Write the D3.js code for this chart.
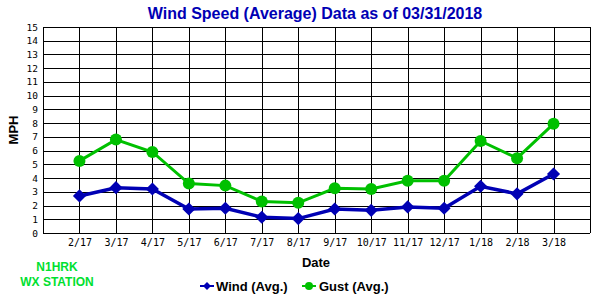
<!DOCTYPE html>
<html>
<head>
<meta charset="utf-8">
<script src="https://cdn.jsdelivr.net/npm/d3@7"></script>
<style>
body { margin: 0; background: #fff; }
svg { display: block; font-family: "Liberation Sans", Arial, sans-serif; }
</style>
</head>
<body>
<div id="chartContainer"></div>
<script>
var months = ["2/17", "3/17", "4/17", "5/17", "6/17", "7/17", "8/17", "9/17", "10/17", "11/17", "12/17", "1/18", "2/18", "3/18"]
var windAvg = [2.7, 3.3, 3.2, 1.75, 1.8, 1.15, 1.05, 1.75, 1.65, 1.9, 1.8, 3.4, 2.85, 4.3]
var gustAvg = [5.25, 6.8, 5.9, 3.6, 3.45, 2.3, 2.2, 3.25, 3.2, 3.8, 3.8, 6.7, 5.45, 7.95]
var yTicks = d3.range(0, 16)

var width = 600, height = 300
var plotLeft = 43, plotRight = 590, plotTop = 27, plotBottom = 233

var svg = d3.select('#chartContainer').append('svg')
    .attr('width', width)
    .attr('height', height)

var xScale = d3.scaleLinear()
    .domain([0, months.length + 1])
    .range([plotLeft, plotRight])

var yScale = d3.scaleLinear()
    .domain([0, 15])
    .range([plotBottom, plotTop])

var blue = '#0000b4', green = '#00c000'

// title
svg.append('text')
    .attr('x', 315).attr('y', 19)
    .attr('text-anchor', 'middle')
    .style('font-weight', 'bold').style('font-size', '16px')
    .style('fill', '#0000b4')
    .text('Wind Speed (Average) Data as of 03/31/2018')

// grid
var grid = svg.append('g').attr('class', 'grid')
grid.selectAll('.hline')
    .data(yTicks)
    .enter().append('line')
    .attr('x1', plotLeft).attr('x2', plotRight)
    .attr('y1', function(d) { return Math.round(yScale(d)) + 0.5 })
    .attr('y2', function(d) { return Math.round(yScale(d)) + 0.5 })
    .style('stroke', '#000').style('stroke-width', 1)

grid.selectAll('.vline')
    .data(d3.range(0, months.length + 2))
    .enter().append('line')
    .attr('x1', function(d) { return Math.round(xScale(d)) + 0.5 })
    .attr('x2', function(d) { return Math.round(xScale(d)) + 0.5 })
    .attr('y1', plotTop).attr('y2', plotBottom)
    .style('stroke', '#000').style('stroke-width', 1)

// y axis labels
svg.append('g')
    .attr('transform', 'translate(' + plotLeft + ',0)')
    .call(d3.axisLeft(yScale).tickValues(yTicks).tickSize(0).tickPadding(5))
    .call(function(g) { g.select('.domain').remove() })
    .selectAll('text')
    .style('font-family', '"DejaVu Sans Mono", monospace')
    .style('font-size', '9.5px')
    .style('fill', '#000')

// x axis labels
svg.append('g')
    .attr('transform', 'translate(0,' + plotBottom + ')')
    .call(d3.axisBottom(xScale)
        .tickValues(d3.range(1, months.length + 1))
        .tickFormat(function(d) { return months[d - 1] })
        .tickSize(0).tickPadding(6))
    .call(function(g) { g.select('.domain').remove() })
    .selectAll('text')
    .style('font-family', '"DejaVu Sans Mono", monospace')
    .style('font-size', '10px')
    .style('fill', '#000')

// axis titles
svg.append('text')
    .attr('transform', 'translate(18,' + 130 + ') rotate(-90)')
    .attr('text-anchor', 'middle')
    .style('font-weight', 'bold').style('font-size', '13px')
    .text('MPH')

svg.append('text')
    .attr('x', 316).attr('y', 267)
    .attr('text-anchor', 'middle')
    .style('font-weight', 'bold').style('font-size', '13px')
    .text('Date')

// station label
svg.append('text')
    .attr('x', 57).attr('y', 271)
    .attr('text-anchor', 'middle')
    .style('font-weight', 'bold').style('font-size', '12px')
    .style('fill', '#00e030')
    .text('N1HRK')
svg.append('text')
    .attr('x', 57).attr('y', 286)
    .attr('text-anchor', 'middle')
    .style('font-weight', 'bold').style('font-size', '12px')
    .style('fill', '#00e030')
    .text('WX STATION')

// series
var line = d3.line()
    .x(function(d, i) { return xScale(i + 1) })
    .y(function(d) { return yScale(d) })

svg.append('path')
    .datum(gustAvg)
    .attr('d', line)
    .style('fill', 'none').style('stroke', green).style('stroke-width', 3)

svg.append('path')
    .datum(windAvg)
    .attr('d', line)
    .style('fill', 'none').style('stroke', blue).style('stroke-width', 3.5)

svg.selectAll('.gust')
    .data(gustAvg)
    .enter().append('circle')
    .attr('cx', function(d, i) { return xScale(i + 1) })
    .attr('cy', function(d) { return yScale(d) })
    .attr('r', 6)
    .style('fill', green)

var diamond = d3.symbol().type(d3.symbolDiamond2).size(110)

svg.selectAll('.wind')
    .data(windAvg)
    .enter().append('path')
    .attr('d', diamond)
    .attr('transform', function(d, i) { return 'translate(' + xScale(i + 1) + ',' + yScale(d) + ')' })
    .style('fill', blue)

// legend
var legend = svg.append('g').attr('class', 'legend')
legend.append('line')
    .attr('x1', 200).attr('x2', 214).attr('y1', 286).attr('y2', 286)
    .style('stroke', blue).style('stroke-width', 2)
legend.append('path')
    .attr('d', d3.symbol().type(d3.symbolDiamond2).size(40))
    .attr('transform', 'translate(207,286)')
    .style('fill', blue)
legend.append('text')
    .attr('x', 216).attr('y', 291)
    .style('font-weight', 'bold').style('font-size', '13px')
    .text('Wind (Avg.)')

legend.append('line')
    .attr('x1', 302).attr('x2', 316).attr('y1', 286).attr('y2', 286)
    .style('stroke', green).style('stroke-width', 2)
legend.append('circle')
    .attr('cx', 309).attr('cy', 286).attr('r', 4)
    .style('fill', green)
legend.append('text')
    .attr('x', 319).attr('y', 291)
    .style('font-weight', 'bold').style('font-size', '13px')
    .text('Gust (Avg.)')
</script>
</body>
</html>
